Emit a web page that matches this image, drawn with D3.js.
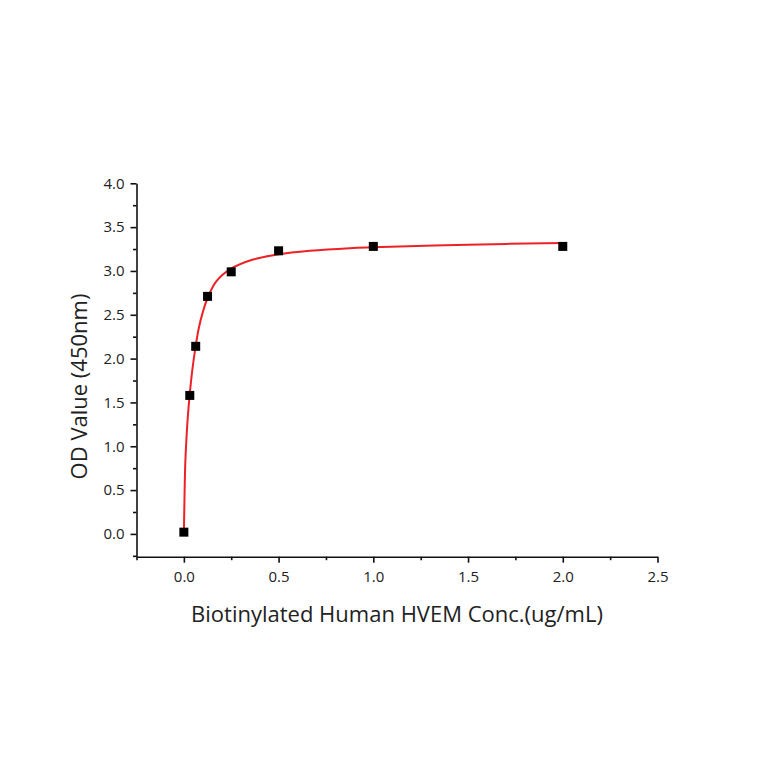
<!DOCTYPE html>
<html>
<head>
<meta charset="utf-8">
<script src="https://cdn.jsdelivr.net/npm/d3@7"></script>
<style>
  body { margin: 0; background: #fff; }
  .axis text { font-family: 'Open Sans', sans-serif; font-size: 15px; fill: #222; }
  .axis path, .axis line { stroke: #111; stroke-width: 1.6; }
  .axis-title { font-family: 'Open Sans', sans-serif; font-size: 22px; fill: #222; }
</style>
</head>
<body>
<div id="chart"></div>
<script>
// measured points
const conc = [0, 0.03125, 0.0625, 0.125, 0.25, 0.5, 1, 2];
const od = [0.02, 1.58, 2.14, 2.71, 2.99, 3.23, 3.28, 3.28];

// fitted curve
const fitConc = [0, 0.002, 0.0074, 0.014, 0.021, 0.03, 0.044, 0.062, 0.079, 0.1, 0.123, 0.171, 0.245, 0.365, 0.5, 0.665, 0.875, 1.0, 1.5, 2.0];
const fitOd = [0, 0.25, 0.80, 1.10, 1.34, 1.57, 1.86, 2.14, 2.35, 2.53, 2.68, 2.88, 3.02, 3.13, 3.19, 3.23, 3.26, 3.27, 3.30, 3.32];

const xTicks = [0, 0.5, 1.0, 1.5, 2.0, 2.5];
const xMinor = [-0.25, 0.25, 0.75, 1.25, 1.75, 2.25];
const yTicks = [0, 0.5, 1.0, 1.5, 2.0, 2.5, 3.0, 3.5, 4.0];
const yMinor = [-0.25, 0.25, 0.75, 1.25, 1.75, 2.25, 2.75, 3.25, 3.75];

const width = 764, height = 764;
const margin = { top: 183.3, right: 106.5, bottom: 207.3, left: 136.5 };
const innerW = width - margin.left - margin.right;
const innerH = height - margin.top - margin.bottom;

const svg = d3.select('#chart').append('svg')
  .attr('width', width)
  .attr('height', height)
  .attr('viewBox', `0 0 ${width} ${height}`);

const g = svg.append('g')
  .attr('transform', `translate(${margin.left}, ${margin.top})`);

const x = d3.scaleLinear().domain([-0.25, 2.5]).range([0, innerW]);
const y = d3.scaleLinear().domain([-0.26, 4.0]).range([innerH, 0]);

// minor ticks first, then the major axes on top
g.append('g')
  .attr('class', 'axis')
  .attr('transform', `translate(0, ${innerH})`)
  .call(d3.axisBottom(x).tickValues(xMinor).tickSize(3.5).tickFormat(''))
  .select('.domain').remove();

g.append('g')
  .attr('class', 'axis')
  .call(d3.axisLeft(y).tickValues(yMinor).tickSize(3.5).tickFormat(''))
  .select('.domain').remove();

g.append('g')
  .attr('class', 'axis x-axis')
  .attr('transform', `translate(0, ${innerH})`)
  .call(d3.axisBottom(x).tickValues(xTicks).tickSize(6).tickSizeOuter(0).tickPadding(9).tickFormat(d3.format('.1f')));

g.append('g')
  .attr('class', 'axis y-axis')
  .call(d3.axisLeft(y).tickValues(yTicks).tickSize(6).tickSizeOuter(0).tickPadding(6).tickFormat(d3.format('.1f')));

// fit curve
const line = d3.line()
  .x((d, i) => x(fitConc[i]))
  .y(d => y(d))
  .curve(d3.curveCatmullRom.alpha(0.5));

g.append('path')
  .datum(fitOd)
  .attr('fill', 'none')
  .attr('stroke', '#ec2226')
  .attr('stroke-width', 2)
  .attr('d', line);

// markers
const s = 9;
g.selectAll('.pt')
  .data(od)
  .join('rect')
  .attr('class', 'pt')
  .attr('x', (d, i) => x(conc[i]) - s / 2)
  .attr('y', d => y(d) - s / 2)
  .attr('width', s)
  .attr('height', s)
  .attr('fill', '#000');

// axis titles
svg.append('text')
  .attr('class', 'axis-title')
  .attr('x', 397)
  .attr('y', 622)
  .attr('text-anchor', 'middle')
  .text('Biotinylated Human HVEM Conc.(ug/mL)');

svg.append('text')
  .attr('class', 'axis-title')
  .attr('transform', 'translate(86.5, 386.5) rotate(-90)')
  .attr('text-anchor', 'middle')
  .text('OD Value (450nm)');
</script>
</body>
</html>
